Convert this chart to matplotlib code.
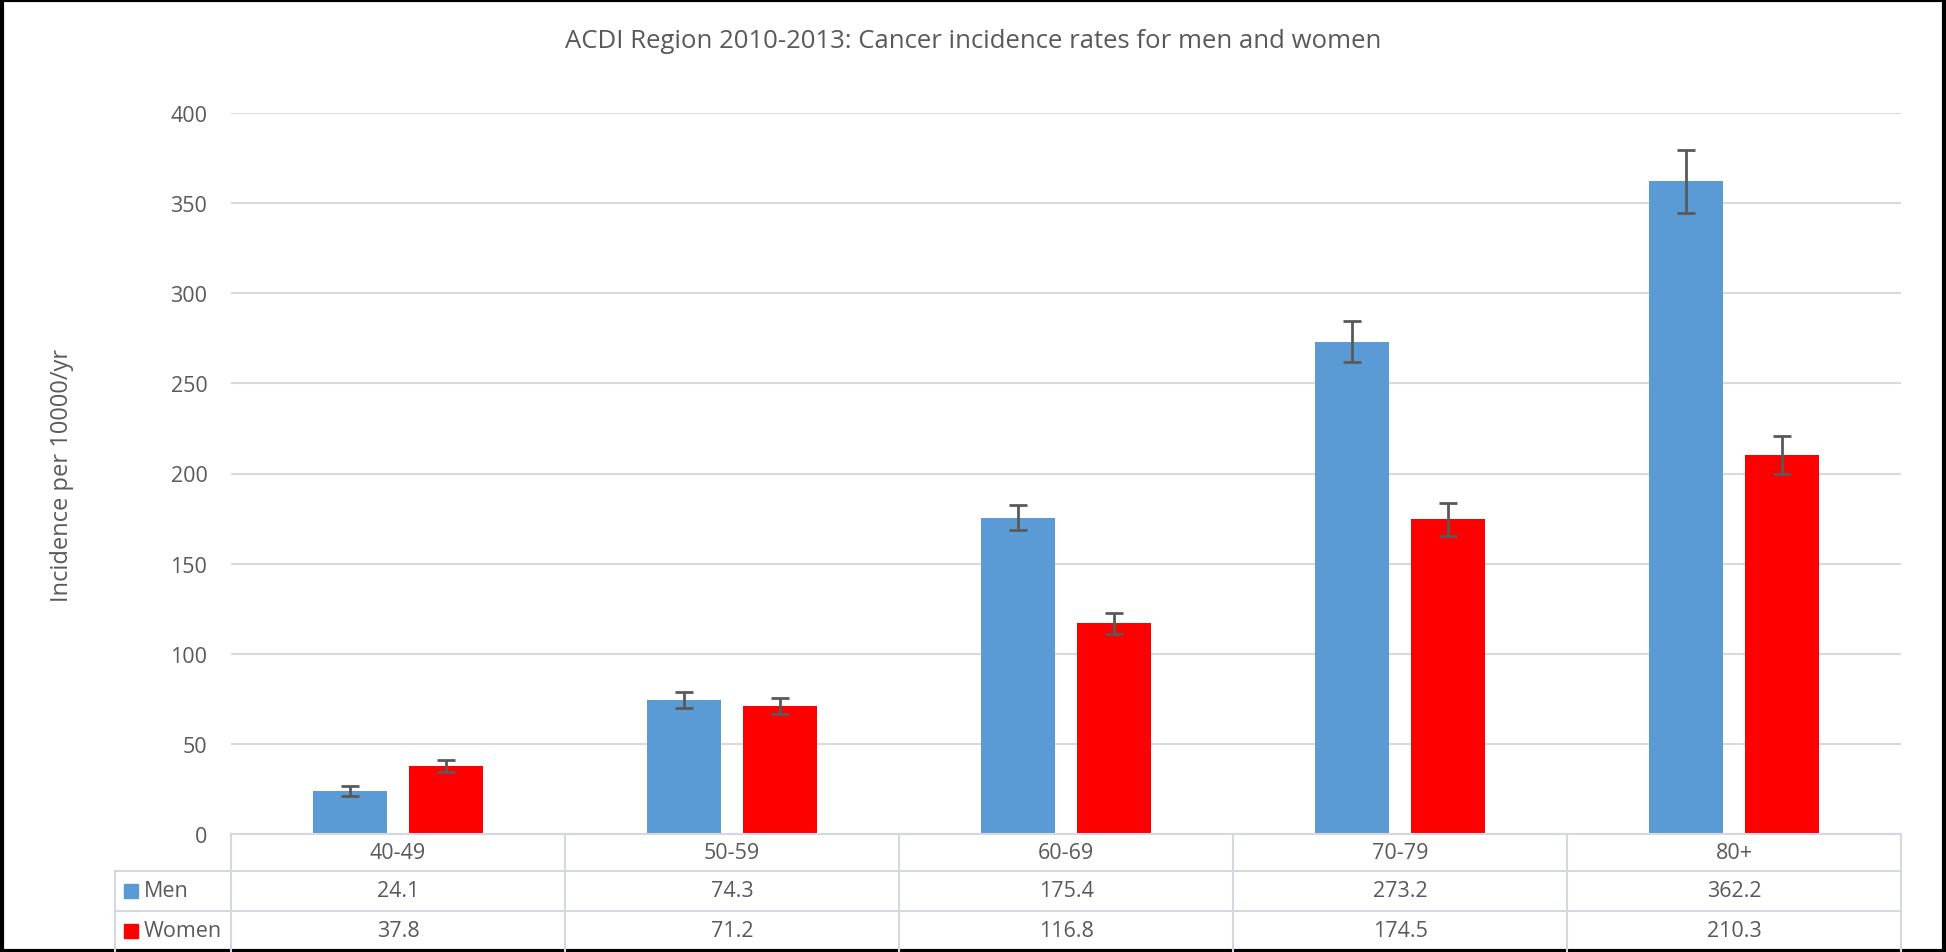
import matplotlib
matplotlib.use("Agg")
import matplotlib.pyplot as plt
from matplotlib.lines import Line2D
from matplotlib.patches import Rectangle
import numpy as np

categories = ["40-49", "50-59", "60-69", "70-79", "80+"]
men = [24.1, 74.3, 175.4, 273.2, 362.2]
women = [37.8, 71.2, 116.8, 174.5, 210.3]
men_err = [2.8, 4.5, 7.0, 11.5, 17.5]
women_err = [3.2, 4.5, 6.0, 9.0, 10.7]
series_names = ["Men", "Women"]
yticks = [0, 50, 100, 150, 200, 250, 300, 350, 400]

MEN_C = "#5B9BD5"
WOMEN_C = "#FF0000"
TXT = "#595959"
GRID = "#D9D9D9"
TGRID = "#D5D8E0"

plt.rcParams['font.family'] = ['Open Sans', 'DejaVu Sans']

W, H = 1946, 953
fig = plt.figure(figsize=(W / 100, H / 100), dpi=100)

def fx(px):
    return px / W

def fy(py):
    return 1 - py / H

L, R, T, B = 231, 1901, 114, 835
ax = fig.add_axes([fx(L), fy(B), fx(R) - fx(L), fy(T) - fy(B)])
x = np.arange(len(categories))
off = 0.143
bw = 0.223
ax.bar(x - off, men, bw, color=MEN_C, zorder=3)
ax.bar(x + off, women, bw, color=WOMEN_C, zorder=3)
ax.errorbar(x - off, men, yerr=men_err, fmt='none', ecolor="#595959", elinewidth=2, capsize=6.5, capthick=2, zorder=4)
ax.errorbar(x + off, women, yerr=women_err, fmt='none', ecolor="#595959", elinewidth=2, capsize=6.5, capthick=2, zorder=4)
ax.set_xlim(-0.5, len(categories) - 0.5)
ax.set_ylim(0, 400)
ax.set_yticks(yticks)
ax.set_yticklabels([str(v) for v in yticks], fontsize=15.5, color=TXT)
ax.tick_params(axis='y', length=0, pad=17)
ax.tick_params(axis='x', length=0, labelbottom=False)
ax.grid(axis='y', color=GRID, lw=1.5, zorder=0)
for s in ax.spines.values():
    s.set_visible(False)

fig.text(fx(62), fy(475), "Incidence per 10000/yr", rotation=90, ha='center', va='center',
         fontsize=17, color=TXT)

fig.text(0.5, fy(41), "ACDI Region 2010-2013: Cancer incidence rates for men and women",
         ha='center', va='center', fontsize=18.5, color=TXT)

# data table below the axis
LT = 115
def hline(y, x0, x1):
    fig.add_artist(Line2D([fx(x0), fx(x1)], [fy(y), fy(y)], color=TGRID, lw=1.5))
def vline(xp, y0, y1):
    fig.add_artist(Line2D([fx(xp), fx(xp)], [fy(y0), fy(y1)], color=TGRID, lw=1.5))

hline(835, L, R)
hline(872, LT, R)
hline(912, LT, R)
colw = (R - L) / len(categories)
for i in range(len(categories) + 1):
    vline(L + i * colw, 835, 953)
vline(LT, 872, 953)

for i, c in enumerate(categories):
    cx = L + (i + 0.5) * colw
    fig.text(fx(cx), fy((835 + 872) / 2), c, ha='center', va='center', fontsize=15.5, color=TXT)
    fig.text(fx(cx), fy((872 + 912) / 2), f"{men[i]:.1f}", ha='center', va='center', fontsize=15.5, color=TXT)
    fig.text(fx(cx), fy((912 + 953) / 2 - 1), f"{women[i]:.1f}", ha='center', va='center', fontsize=15.5, color=TXT)

for name, col, (y0, y1) in zip(series_names, [MEN_C, WOMEN_C], [(872, 912), (912, 951)]):
    yc = (y0 + y1) / 2
    sq = 14
    fig.add_artist(Rectangle((fx(124), fy(yc + sq / 2)), fx(sq), fy(0) - fy(sq), color=col, transform=fig.transFigure))
    fig.text(fx(144), fy(yc), name, ha='left', va='center', fontsize=15.5, color=TXT)

# outer border
fig.add_artist(Rectangle((0.0008, 0.0015), 0.9984, 0.997, fill=False, edgecolor='black', lw=3, transform=fig.transFigure))

fig.savefig("out.png", dpi=100)
